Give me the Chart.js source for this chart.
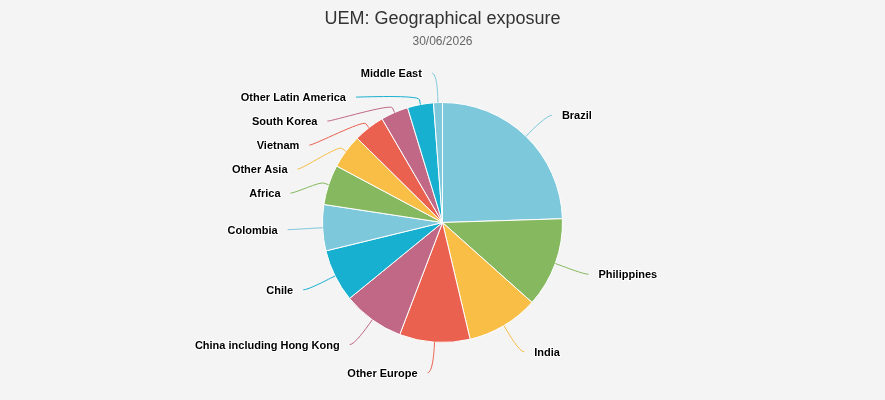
<!DOCTYPE html>
<html>
<head>
<meta charset="utf-8">
<script src="https://cdn.jsdelivr.net/npm/chart.js@4/dist/chart.umd.min.js"></script>
<style>
html,body{margin:0;padding:0;background:#f4f4f4;}
#wrap{width:885px;height:400px;position:relative;}
</style>
</head>
<body>
<div id="wrap"><canvas id="c"></canvas></div>
<script>
const titleText = "UEM: Geographical exposure";
const subtitleText = "30/06/2026";
const categories = ["Brazil","Philippines","India","Other Europe","China including Hong Kong","Chile","Colombia","Africa","Other Asia","Vietnam","South Korea","Other Latin America","Middle East"];
const values = [24.5, 12.1, 9.7, 9.5, 8.3, 7.1, 6.2, 5.4, 4.6, 4.2, 3.7, 3.5, 1.2];
const palette = ["#7ec8dc","#86b95f","#f8be46","#eb6150","#c06886","#18b0d0"];

const sliceColors = categories.map((_, i) => palette[i % palette.length]);

const bgPlugin = {
  id: 'bg',
  beforeDraw(chart) {
    const ctx = chart.ctx;
    ctx.save();
    ctx.fillStyle = '#f4f4f4';
    ctx.fillRect(0, 0, chart.width, chart.height);
    ctx.restore();
  }
};

const titlePlugin = {
  id: 'titles',
  afterDraw(chart) {
    const ctx = chart.ctx;
    ctx.save();
    ctx.textAlign = 'center';
    ctx.textBaseline = 'alphabetic';
    ctx.fillStyle = '#333333';
    ctx.font = '18px "Liberation Sans", Arial, sans-serif';
    ctx.fillText(titleText, chart.width / 2, 23.5);
    ctx.fillStyle = '#666666';
    ctx.font = '12px "Liberation Sans", Arial, sans-serif';
    ctx.fillText(subtitleText, chart.width / 2, 44.5);
    ctx.restore();
  }
};

const outLabels = {
  id: 'outLabels',
  afterDatasetsDraw(chart) {
    const ctx = chart.ctx;
    const meta = chart.getDatasetMeta(0);
    const dist = 30, spacing = 24;
    const items = meta.data.map((arc, i) => {
      const mid = (arc.startAngle + arc.endAngle) / 2;
      const r = arc.outerRadius;
      const left = mid > Math.PI / 2;
      return {
        i, mid, r, left, cx: arc.x, cy: arc.y,
        y: arc.y + Math.sin(mid) * (r + dist),
        color: chart.data.datasets[0].backgroundColor[i]
      };
    });
    [true, false].forEach(side => {
      const grp = items.filter(o => o.left === side).sort((a, b) => a.y - b.y);
      for (let k = 1; k < grp.length; k++) {
        if (grp[k].y < grp[k - 1].y + spacing) grp[k].y = grp[k - 1].y + spacing;
      }
    });
    ctx.save();
    ctx.font = 'bold 11px "Liberation Sans", Arial, sans-serif';
    ctx.textBaseline = 'middle';
    items.forEach(o => {
      const R = o.r + dist;
      const dy = o.y - o.cy;
      const dx = Math.abs(dy) < R ? Math.sqrt(R * R - dy * dy) : 0;
      const sgn = o.left ? -1 : 1;
      const x = o.cx + sgn * dx;
      const ly = o.y + 0.5;
      const sx = x + sgn * 5;
      const touch = { x: o.cx + Math.cos(o.mid) * o.r, y: o.cy + Math.sin(o.mid) * o.r };
      const brk = { x: o.cx + Math.cos(o.mid) * (o.r + 5), y: o.cy + Math.sin(o.mid) * (o.r + 5) };
      ctx.strokeStyle = o.color;
      ctx.lineWidth = 1;
      ctx.beginPath();
      ctx.moveTo(sx, ly);
      ctx.bezierCurveTo(sx - sgn * 5, ly, 2 * brk.x - touch.x, 2 * brk.y - touch.y, brk.x, brk.y);
      ctx.lineTo(touch.x, touch.y);
      ctx.stroke();
      ctx.textAlign = o.left ? 'right' : 'left';
      const tx = x + sgn * 15, ty = o.y + 1.5;
      ctx.strokeStyle = '#ffffff';
      ctx.lineWidth = 2;
      ctx.lineJoin = 'round';
      ctx.strokeText(categories[o.i], tx, ty);
      ctx.fillStyle = '#000000';
      ctx.fillText(categories[o.i], tx, ty);
    });
    ctx.restore();
  }
};

new Chart(document.getElementById('c'), {
  type: 'pie',
  data: {
    labels: categories,
    datasets: [{
      data: values,
      backgroundColor: sliceColors,
      borderColor: '#ffffff',
      borderWidth: 1
    }]
  },
  options: {
    responsive: true,
    maintainAspectRatio: false,
    animation: false,
    layout: { padding: { left: 322, right: 322, top: 102, bottom: 57 } },
    plugins: {
      legend: { display: false },
      tooltip: { enabled: false },
      title: { display: false }
    }
  },
  plugins: [bgPlugin, outLabels, titlePlugin]
});
</script>
</body>
</html>
